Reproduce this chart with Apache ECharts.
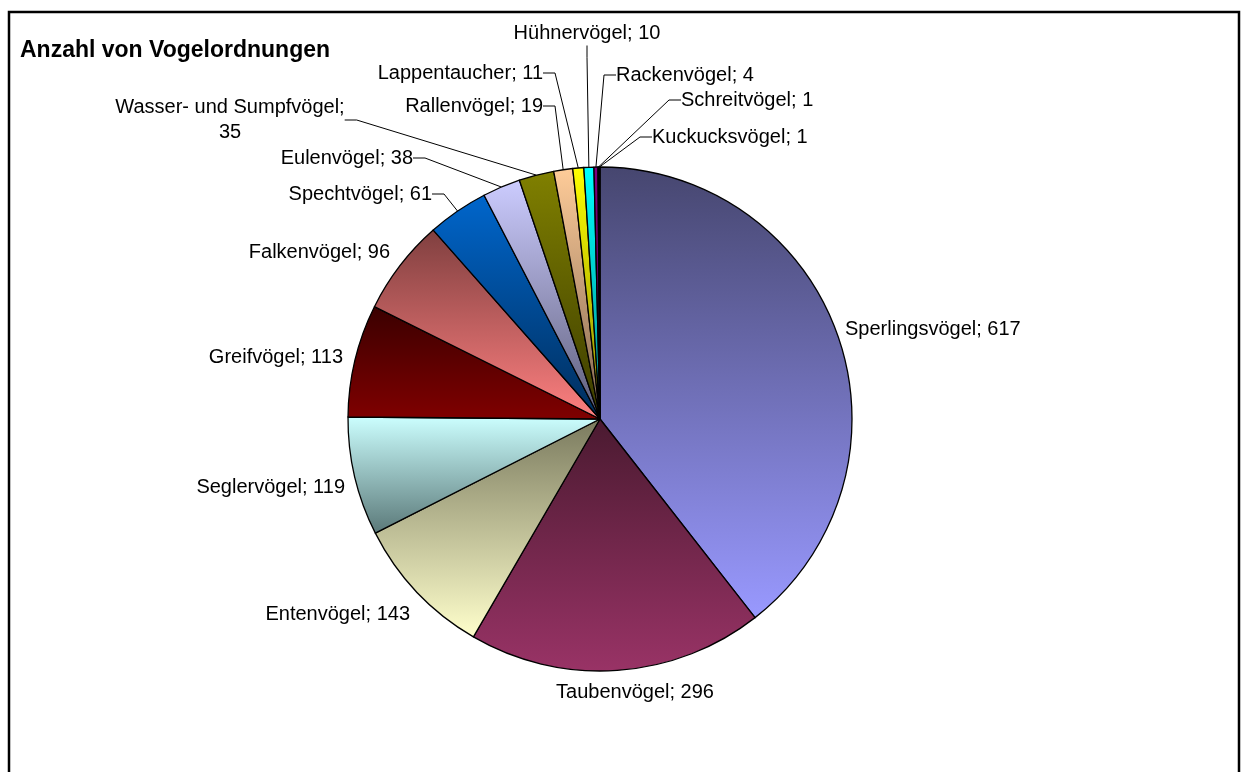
<!DOCTYPE html>
<html>
<head>
<meta charset="utf-8">
<script src="https://cdn.jsdelivr.net/npm/echarts@6/dist/echarts.min.js"></script>
<style>
html, body { margin: 0; padding: 0; background: #fff; }
#main { width: 1241px; height: 772px; }
</style>
</head>
<body>
<div id="main"></div>
<script>
// Daten
var names = ['Sperlingsvögel', 'Taubenvögel', 'Entenvögel', 'Seglervögel', 'Greifvögel',
    'Falkenvögel', 'Spechtvögel', 'Eulenvögel', 'Wasser- und Sumpfvögel', 'Rallenvögel',
    'Lappentaucher', 'Hühnervögel', 'Rackenvögel', 'Schreitvögel', 'Kuckucksvögel'];
var counts = [617, 296, 143, 119, 113, 96, 61, 38, 35, 19, 11, 10, 4, 1, 1];

// Farben (Verlauf oben -> unten)
var topColors = ['#46466f', '#4a1a30', '#7a7a5e', '#ccffff', '#3a0000', '#7f3f3f', '#0066cc',
    '#ccccff', '#808000', '#ffcc99', '#ffff00', '#00ffff', '#800080', '#000080', '#660066'];
var bottomColors = ['#9999ff', '#993366', '#ffffcc', '#5a7878', '#800000', '#ff8080', '#002d5b',
    '#5c5c78', '#3b3b00', '#806650', '#8a8a00', '#008a8a', '#400040', '#000040', '#330033'];

// Beschriftungen: Position und Ausrichtung
var labelPos = [
    [845, 329, 'left'], [635, 692, 'center'], [410, 614, 'right'], [345, 487, 'right'],
    [343, 357, 'right'], [390, 252, 'right'], [432, 194, 'right'], [413, 158, 'right'],
    [230, 120, 'center'], [543, 106, 'right'], [543, 73, 'right'], [587, 33, 'center'],
    [616, 75, 'left'], [681, 100, 'left'], [652, 137, 'left']
];
var showLine = [false, false, false, false, false, false, true, true, true, true, true, true, true, true, true];

var myChart = echarts.init(document.getElementById('main'));

var data = names.map(function (n, i) {
    return {
        name: n,
        value: counts[i],
        itemStyle: {
            color: new echarts.graphic.LinearGradient(0, 0, 0, 1, [
                { offset: 0, color: topColors[i] },
                { offset: 1, color: bottomColors[i] }
            ])
        },
        labelLine: { show: showLine[i] }
    };
});

var option = {
    backgroundColor: '#fff',
    animation: false,
    title: {
        text: 'Anzahl von Vogelordnungen',
        left: 15,
        top: 34,
        textStyle: {
            fontFamily: 'Liberation Sans',
            fontWeight: 'bold',
            fontSize: 23,
            color: '#000'
        }
    },
    graphic: [{
        type: 'rect',
        shape: { x: 9, y: 12, width: 1230, height: 800 },
        style: { fill: 'none', stroke: '#000', lineWidth: 2.5 },
        silent: true
    }],
    series: [{
        name: 'Vogelordnungen',
        type: 'pie',
        center: [600, 419],
        radius: 252,
        startAngle: 90,
        clockwise: true,
        avoidLabelOverlap: false,
        emphasis: { disabled: true },
        itemStyle: {
            borderColor: '#000',
            borderWidth: 1.3
        },
        label: {
            show: true,
            position: 'outside',
            fontFamily: 'Liberation Sans',
            fontSize: 20,
            lineHeight: 25,
            color: '#000',
            formatter: function (p) {
                return p.name.length > 20 ? p.name + ';\n' + p.value : p.name + '; ' + p.value;
            }
        },
        labelLine: {
            show: true,
            length: 10,
            length2: 12,
            lineStyle: { color: '#000', width: 1 }
        },
        labelLayout: function (params) {
            var pos = labelPos[params.dataIndex];
            return {
                x: pos[0],
                y: pos[1],
                align: pos[2],
                verticalAlign: 'middle',
                hideOverlap: false
            };
        },
        data: data
    }]
};

myChart.setOption(option);
</script>
</body>
</html>
